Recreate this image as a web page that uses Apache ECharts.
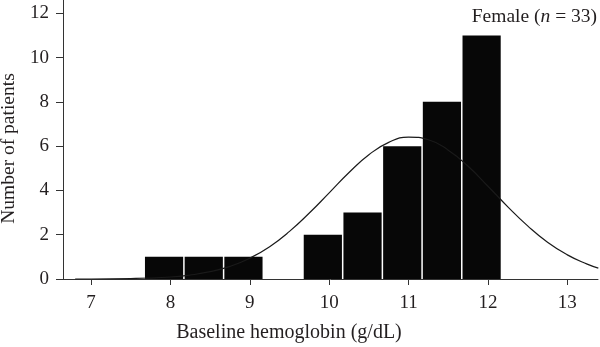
<!DOCTYPE html>
<html>
<head>
<meta charset="utf-8">
<script src="https://cdn.jsdelivr.net/npm/echarts@6/dist/echarts.min.js"></script>
<style>
html,body{margin:0;padding:0;background:#fff;}
#chart{width:600px;height:347px;}
</style>
</head>
<body>
<div id="chart"></div>
<script>
// Histogram bins (g/dL) and patient counts
const binLow  = [7.67, 8.17, 8.67, 9.67, 10.17, 10.67, 11.17, 11.67];
const binHigh = [8.17, 8.67, 9.17, 10.17, 10.67, 11.17, 11.67, 12.17];
const counts  = [1, 1, 1, 2, 3, 6, 8, 11];

// Fitted normal curve
const curveX = [6.8, 7.0, 7.5, 8.0, 8.25, 8.5, 8.75, 9.0, 9.25, 9.5, 9.75, 10.0, 10.25, 10.5, 10.75, 11.0, 11.25, 11.5, 11.75, 12.0, 12.25, 12.5, 12.75, 13.0, 13.25, 13.39];
const curveY = [0.0, 0.0, 0.02, 0.09, 0.18, 0.33, 0.57, 0.94, 1.46, 2.15, 2.98, 3.89, 4.81, 5.61, 6.17, 6.41, 6.29, 5.82, 5.09, 4.19, 3.26, 2.40, 1.66, 1.09, 0.67, 0.49];

const xTicks = [7, 8, 9, 10, 11, 12, 13];
const yTicks = [0, 2, 4, 6, 8, 10, 12];

const xTitle = 'Baseline hemoglobin (g/dL)';
const yTitle = 'Number of patients';

const FONT = '"Liberation Serif", "DejaVu Serif", serif';
const INK = '#231f20';

const chart = echarts.init(document.getElementById('chart'), null, {renderer: 'canvas'});

const barData = binLow.map((lo, i) => [lo, binHigh[i], counts[i]]);
const lineData = curveX.map((x, i) => [x, curveY[i]]);

chart.setOption({
  animation: false,
  backgroundColor: '#fff',
  grid: {left: 63, right: 2, top: 0, bottom: 68, containLabel: false, outerBoundsMode: 'none'},
  xAxis: {
    type: 'value',
    min: 6.647,
    max: 13.386,
    splitLine: {show: false},
    axisLine: {show: true, onZero: false, lineStyle: {color: '#333', width: 1}},
    axisTick: {show: true, length: 6, customValues: xTicks, lineStyle: {color: '#333', width: 1}},
    axisLabel: {customValues: xTicks, margin: 15, color: INK, fontFamily: FONT, fontSize: 19},
    name: xTitle,
    nameLocation: 'middle',
    nameGap: 44,
    nameTextStyle: {color: INK, fontFamily: FONT, fontSize: 20, padding: [0, 83, 0, 0]}
  },
  yAxis: {
    type: 'value',
    min: 0,
    max: 12.6,
    splitLine: {show: false},
    axisLine: {show: true, lineStyle: {color: '#333', width: 1}},
    axisTick: {show: true, length: 7, customValues: yTicks, lineStyle: {color: '#333', width: 1}},
    axisLabel: {customValues: yTicks, margin: 14, color: INK, fontFamily: FONT, fontSize: 19},
    name: yTitle,
    nameLocation: 'middle',
    nameGap: 40,
    nameTextStyle: {color: INK, fontFamily: FONT, fontSize: 19.5, padding: [0, 18, 0, 0]}
  },
  graphic: [{
    type: 'text',
    right: 3,
    top: 7,
    style: {
      text: '{a|Female (}{i|n}{a| = 33)}',
      rich: {
        a: {fontFamily: FONT, fontSize: 19.5, fill: INK, color: INK},
        i: {fontFamily: FONT, fontSize: 19.5, fontStyle: 'italic', fill: INK, color: INK}
      }
    }
  }],
  series: [
    {
      type: 'custom',
      name: 'counts',
      data: barData,
      encode: {x: [0, 1], y: 2},
      renderItem: function (params, api) {
        const lo = api.value(0), hi = api.value(1), c = api.value(2);
        const p0 = api.coord([lo, c]);
        const p1 = api.coord([hi, 0]);
        return {
          type: 'rect',
          shape: {x: p0[0] + 0.75, y: p0[1], width: p1[0] - p0[0] - 1.5, height: p1[1] - p0[1]},
          style: {fill: '#070707'}
        };
      },
      z: 2
    },
    {
      type: 'line',
      name: 'normal fit',
      data: lineData,
      smooth: true,
      symbol: 'none',
      lineStyle: {color: '#1a1a1a', width: 1.2},
      z: 3
    }
  ]
});
</script>
</body>
</html>
